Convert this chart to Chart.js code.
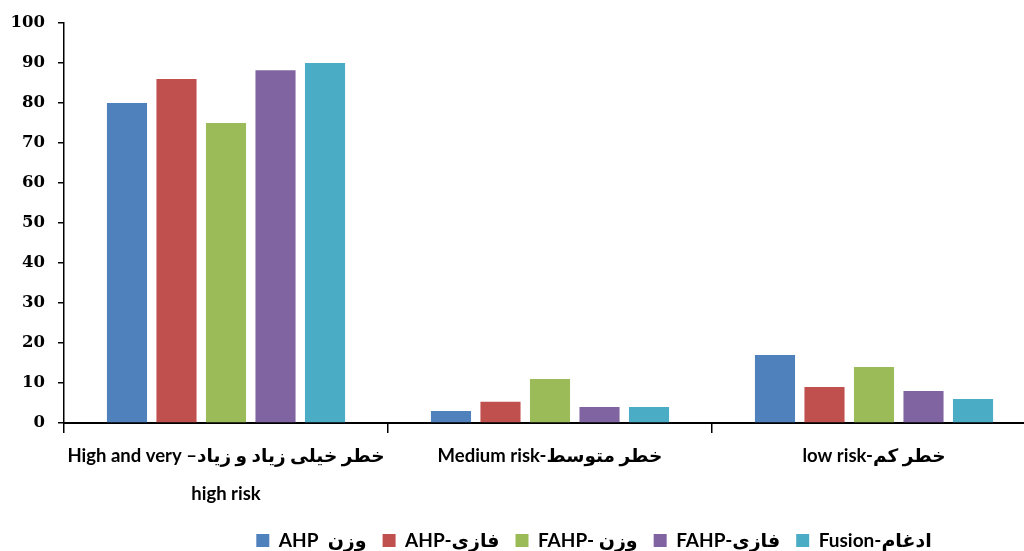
<!DOCTYPE html>
<html>
<head>
<meta charset="utf-8">
<script src="https://cdn.jsdelivr.net/npm/chart.js@4"></script>
<style>
  html, body { margin: 0; padding: 0; background: #fff; }
  #wrap { width: 1024px; height: 551px; overflow: hidden; }
  #box { width: 1040px; height: 551px; }
</style>
</head>
<body>
<div id="wrap"><div id="box"><canvas id="riskChart"></canvas></div></div>
<script>
// داده‌های نمودار
const categories = [
    ['High and very –خطر خیلی زیاد و زیاد', 'high risk'],
    'Medium risk-خطر متوسط',
    'low risk-خطر کم'
];
const seriesNames = ['AHP  وزن', 'AHP-فازی', 'FAHP- وزن', 'FAHP-فازی', 'Fusion-ادغام'];
const ahpWeight = [80, 3, 17];
const ahpFuzzy = [86, 5.3, 9];
const fahpWeight = [75, 11, 14];
const fahpFuzzy = [88.2, 4, 8];
const fusion = [90, 4, 6];
const yTicks = [0, 10, 20, 30, 40, 50, 60, 70, 80, 90, 100];

const colors = ['#4F81BD', '#C0504D', '#9BBB59', '#8064A2', '#4BACC6'];
const seriesValues = [ahpWeight, ahpFuzzy, fahpWeight, fahpFuzzy, fusion];

// جابجایی راهنما به محل تصویر اصلی
const legendShift = {
    id: 'legendShift',
    afterLayout(chart) {
        const lg = chart.legend;
        const dx = 594 - (lg.left + lg.right) / 2;
        lg.left += dx; lg.right += dx;
        lg.top += 9; lg.bottom += 9;
    }
};

const ctx = document.getElementById('riskChart');
new Chart(ctx, {
    type: 'bar',
    data: {
        labels: categories,
        datasets: seriesNames.map((name, i) => ({
            label: name,
            data: seriesValues[i],
            backgroundColor: colors[i],
            borderWidth: 0,
            categoryPercentage: 0.764,
            barPercentage: 0.81
        }))
    },
    options: {
        responsive: true,
        maintainAspectRatio: false,
        animation: false,
        layout: { padding: { top: 23, right: 4, left: 0, bottom: 0 } },
        plugins: {
            tooltip: { enabled: false },
            legend: {
                position: 'bottom',
                labels: {
                    boxWidth: 13,
                    boxHeight: 13,
                    padding: 16,
                    color: '#000',
                    font: { family: 'Lato, "DejaVu Sans"', size: 19, weight: 'bold' }
                }
            }
        },
        scales: {
            x: {
                grid: { display: true, drawOnChartArea: false, color: '#000', tickLength: 10, lineWidth: 1.5 },
                border: { color: '#000', width: 2 },
                ticks: {
                    color: '#000',
                    padding: 4,
                    maxRotation: 0,
                    autoSkip: false,
                    font: { family: 'Lato, "DejaVu Sans"', size: 18.5, weight: 'bold', lineHeight: 2.05 }
                },
                afterFit(scale) { scale.height = 83; }
            },
            y: {
                min: 0,
                max: 100,
                afterBuildTicks(scale) { scale.ticks = yTicks.map(v => ({ value: v })); },
                grid: { display: true, drawOnChartArea: false, color: '#000', tickLength: 6, lineWidth: 1.5 },
                border: { color: '#000', width: 1.5 },
                ticks: {
                    color: '#000',
                    padding: 13,
                    font: { family: '"DejaVu Serif"', size: 16.5, weight: 'bold' }
                },
                afterFit(scale) { scale.width = 64; }
            }
        }
    },
    plugins: [legendShift]
});
</script>
</body>
</html>
